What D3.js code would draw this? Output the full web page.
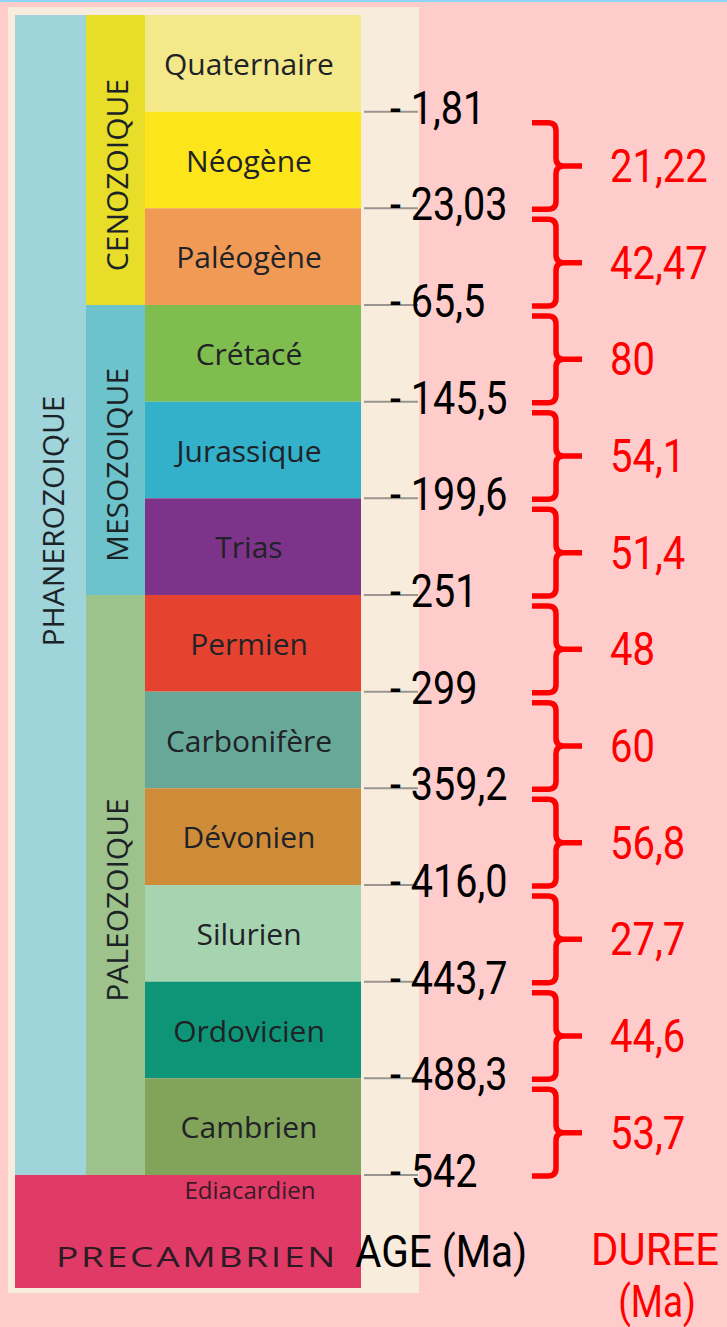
<!DOCTYPE html>
<meta charset="utf-8">
<script src="https://d3js.org/d3.v7.min.js"></script>
<style>
  body { margin: 0; background: #ffcccc; }
</style>
<div id="chart"></div>
<script>
  // Periods, top (youngest) to bottom
  const periods = ["Quaternaire", "Néogène", "Paléogène", "Crétacé", "Jurassique", "Trias",
                   "Permien", "Carbonifère", "Dévonien", "Silurien", "Ordovicien", "Cambrien"];
  const periodColors = ["#f4e98a", "#fde51b", "#f19a56", "#80bd4f", "#33b0ca", "#7d338a",
                        "#e5432f", "#67a898", "#cf8c38", "#a6d3b0", "#0e9577", "#82a35a"];

  // Eras: name and how many periods they cover
  const eras = ["CENOZOIQUE", "MESOZOIQUE", "PALEOZOIQUE"];
  const eraSpans = [3, 3, 6];
  const eraColors = ["#e8de2a", "#6cc3cc", "#9dc28c"];

  // Age at the base of each period (Ma)
  const ages = ["1,81", "23,03", "65,5", "145,5", "199,6", "251", "299", "359,2",
                "416,0", "443,7", "488,3", "542"];
  // Duration between consecutive ages (Ma)
  const durations = ["21,22", "42,47", "80", "54,1", "51,4", "48", "60", "56,8",
                     "27,7", "44,6", "53,7"];

  const width = 727, height = 1327;
  const numFont = "Roboto, sans-serif";
  const labelFont = "'Open Sans', sans-serif";

  const svg = d3.select("#chart")
    .append("svg")
      .attr("width", width)
      .attr("height", height);

  svg.append("rect").attr("width", width).attr("height", height).attr("fill", "#ffcccc");
  svg.append("rect").attr("width", width).attr("height", 2).attr("fill", "#8fd6f5");

  // cream panel
  svg.append("rect")
    .attr("x", 8).attr("y", 7)
    .attr("width", 411).attr("height", 1286)
    .attr("fill", "#f8ecdc");

  const y = d3.scaleBand()
    .domain(periods)
    .range([15, 1175]);
  const bottom = p => y(p) + y.bandwidth();

  // Phanerozoic column
  svg.append("rect")
    .attr("x", 15).attr("y", y.range()[0])
    .attr("width", 71).attr("height", y.range()[1] - y.range()[0])
    .attr("fill", "#9fd4da");
  svg.append("text")
    .attr("transform", "translate(52,521) rotate(-90)")
    .attr("text-anchor", "middle")
    .attr("dominant-baseline", "central")
    .attr("font-family", labelFont)
    .attr("font-size", 30)
    .attr("fill", "#1c2326")
    .text("PHANEROZOIQUE");

  // Eras
  let start = 0;
  const eraData = eras.map((e, i) => {
    const d = {name: e, first: periods[start], last: periods[start + eraSpans[i] - 1], color: eraColors[i]};
    start += eraSpans[i];
    return d;
  });

  const era = svg.selectAll(".era")
    .data(eraData)
    .enter().append("g");
  era.append("rect")
    .attr("x", 86)
    .attr("y", d => y(d.first))
    .attr("width", 59)
    .attr("height", d => bottom(d.last) - y(d.first))
    .attr("fill", d => d.color);
  era.append("text")
    .attr("transform", d => `translate(116,${(y(d.first) + bottom(d.last)) / 2 + 15}) rotate(-90)`)
    .attr("text-anchor", "middle")
    .attr("dominant-baseline", "central")
    .attr("font-family", labelFont)
    .attr("font-size", 30)
    .attr("fill", "#1c2326")
    .text(d => d.name);

  // Periods
  const per = svg.selectAll(".period")
    .data(periods)
    .enter().append("g");
  per.append("rect")
    .attr("x", 145)
    .attr("y", d => y(d))
    .attr("width", 216)
    .attr("height", y.bandwidth())
    .attr("fill", (d, i) => periodColors[i]);
  per.append("text")
    .attr("x", 249)
    .attr("y", d => y(d) + y.bandwidth() / 2)
    .attr("text-anchor", "middle")
    .attr("dominant-baseline", "central")
    .attr("font-family", labelFont)
    .attr("font-size", 30)
    .attr("fill", "#1f2226")
    .text(d => d);

  // Precambrian block
  svg.append("rect")
    .attr("x", 15).attr("y", y.range()[1])
    .attr("width", 346).attr("height", 1288 - y.range()[1])
    .attr("fill", "#e03a66");
  svg.append("text")
    .attr("x", 250).attr("y", 1199)
    .attr("text-anchor", "middle")
    .attr("font-family", labelFont)
    .attr("font-size", 24)
    .attr("fill", "#3a1a26")
    .text("Ediacardien");
  svg.append("text")
    .attr("transform", "translate(56,1267) scale(1.33,1)")
    .attr("font-family", labelFont)
    .attr("font-size", 28)
    .attr("letter-spacing", 2)
    .attr("fill", "#2e1a24")
    .text("PRECAMBRIEN");

  // Age ticks and labels
  const ageG = svg.selectAll(".age")
    .data(ages)
    .enter().append("g");
  ageG.append("line")
    .attr("x1", 364).attr("x2", 418)
    .attr("y1", (d, i) => bottom(periods[i]))
    .attr("y2", (d, i) => bottom(periods[i]))
    .attr("stroke", "#9a9590")
    .attr("stroke-width", 2);
  ageG.append("text")
    .attr("transform", (d, i) => `translate(390,${bottom(periods[i]) + 12}) scale(0.86,1)`)
    .attr("font-family", numFont)
    .attr("font-size", 46)
    .attr("fill", "#000")
    .text(d => "- " + d);

  // Duration braces
  const x0 = 532, x1 = 556, x2 = 582, r = 8;
  const braceData = durations.map((d, i) => ({
    label: d,
    top: bottom(periods[i]) + 11,
    bot: bottom(periods[i + 1]) + 1
  }));
  const brace = svg.selectAll(".brace")
    .data(braceData)
    .enter().append("g");
  brace.append("path")
    .attr("d", d => {
      const m = (d.top + d.bot) / 2;
      return `M${x0},${d.top} H${x1 - r} Q${x1},${d.top} ${x1},${d.top + r} V${m - r} ` +
             `Q${x1},${m} ${x1 + r},${m} H${x2} M${x1 + r},${m} Q${x1},${m} ${x1},${m + r} ` +
             `V${d.bot - r} Q${x1},${d.bot} ${x1 - r},${d.bot} H${x0}`;
    })
    .attr("fill", "none")
    .attr("stroke", "#ff0000")
    .attr("stroke-width", 5.5);
  brace.append("text")
    .attr("transform", d => `translate(610,${(d.top + d.bot) / 2 + 16}) scale(0.87,1)`)
    .attr("font-family", numFont)
    .attr("font-size", 46)
    .attr("fill", "#ff0000")
    .text(d => d.label);

  // Column titles
  svg.append("text")
    .attr("transform", "translate(355,1267) scale(0.9,1)")
    .attr("font-family", numFont)
    .attr("font-size", 45)
    .attr("fill", "#000")
    .text("AGE (Ma)");
  svg.append("text")
    .attr("transform", "translate(655,1265) scale(0.93,1)")
    .attr("text-anchor", "middle")
    .attr("font-family", numFont)
    .attr("font-size", 45)
    .attr("fill", "#ff0000")
    .text("DUREE");
  svg.append("text")
    .attr("transform", "translate(657,1317) scale(0.82,1)")
    .attr("text-anchor", "middle")
    .attr("font-family", numFont)
    .attr("font-size", 45)
    .attr("fill", "#ff0000")
    .text("(Ma)");
</script>
